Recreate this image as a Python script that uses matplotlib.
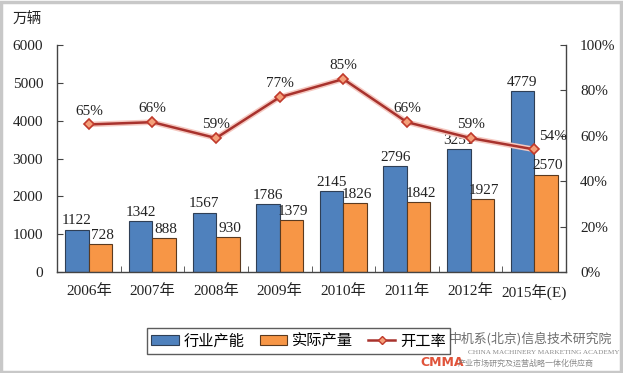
import matplotlib
matplotlib.use("Agg")
import matplotlib.pyplot as plt
from matplotlib.patches import Rectangle
from matplotlib.lines import Line2D
import numpy as np

categories = ["2006年", "2007年", "2008年", "2009年", "2010年", "2011年", "2012年", "2015年(E)"]
capacity = [1122, 1342, 1567, 1786, 2145, 2796, 3251, 4779]
production = [728, 888, 930, 1379, 1826, 1842, 1927, 2570]
rate = [65, 66, 59, 77, 85, 66, 59, 54]
left_ticks = [0, 1000, 2000, 3000, 4000, 5000, 6000]
right_ticks = [0, 20, 40, 60, 80, 100]

SERIF = ["Liberation Serif", "Noto Sans CJK SC"]
SANS = ["Noto Sans CJK SC", "DejaVu Sans"]

W, H = 623, 373
fig = plt.figure(figsize=(W / 100, H / 100), dpi=100)
fig.patch.set_facecolor("white")
fig.patches.append(Rectangle((0.002, 0.004), 0.994, 0.99, transform=fig.transFigure,
                             fill=False, edgecolor="#c8c8c8", linewidth=2.5))

ax = fig.add_axes([57 / W, 1 - 272 / H, (566 - 57) / W, (272 - 45) / H])
x = np.arange(len(categories))
bw = 0.37
blue = "#4F81BD"
orange = "#F79646"
ax.bar(x - bw / 2, capacity, bw, color=blue, edgecolor="#2f3f55", linewidth=0.8, zorder=2)
ax.bar(x + bw / 2, production, bw, color=orange, edgecolor="#5a3a20", linewidth=0.8, zorder=2)
for i in range(len(x)):
    ax.text(x[i] - bw / 2, capacity[i] + 60, str(capacity[i]), ha="center", va="bottom",
            fontsize=11, family=SERIF, color="#222222", zorder=5)
    ax.text(x[i] + bw / 2 + 0.03, production[i] + 60, str(production[i]), ha="center", va="bottom",
            fontsize=11, family=SERIF, color="#222222", zorder=5)

ax.set_xlim(-0.5, len(categories) - 0.5)
ax.set_ylim(0, 6000)
ax.set_yticks(left_ticks)
ax.set_yticklabels([str(t) for t in left_ticks], family=SERIF, fontsize=11, color="#222222")
ax.set_xticks(x)
ax.set_xticklabels(categories, family=SERIF, fontsize=11, color="#222222")
ax.set_xticks(np.arange(-0.5, len(categories), 1), minor=True)
ax.tick_params(axis="x", which="major", length=0, pad=9)
ax.tick_params(axis="x", which="minor", length=4, direction="in", color="#444444")
ax.tick_params(axis="y", length=4, direction="in", color="#444444", pad=10)
for s in ["top", "right"]:
    ax.spines[s].set_visible(False)
for s in ["left", "bottom"]:
    ax.spines[s].set_color("#444444")
    ax.spines[s].set_linewidth(1.0)

ax2 = ax.twinx()
ax2.set_ylim(0, 100)
ax2.set_yticks(right_ticks)
ax2.set_yticklabels([f"{t}%" for t in right_ticks], family=SERIF, fontsize=11, color="#222222")
ax2.tick_params(axis="y", length=4, direction="in", color="#444444", pad=10)
for s in ["top", "left", "bottom"]:
    ax2.spines[s].set_visible(False)
ax2.spines["right"].set_color("#444444")
ax2.spines["right"].set_linewidth(1.0)
ax2.plot(x, rate, color="#f5c8c0", linewidth=4.0, zorder=3, solid_capstyle="round")
ax2.plot(x, rate, color="#a8322d", linewidth=1.8, marker="D", markersize=5.5,
         markerfacecolor="#f4a07a", markeredgecolor="#c0392b", markeredgewidth=1.2, zorder=4)
for i in range(len(x)):
    dx = 0.3 if i == len(x) - 1 else 0
    ax2.text(x[i] + dx, rate[i] + 3, f"{rate[i]}%", ha="center", va="bottom",
             fontsize=11, family=SERIF, color="#222222", zorder=5)

fig.text(13 / W, 1 - 20 / H, "万辆", family=SANS, fontsize=10.5, color="#222222", va="center")

handles = [Rectangle((0, 0), 1, 1, facecolor=blue, edgecolor="#2f3f55", linewidth=0.8),
           Rectangle((0, 0), 1, 1, facecolor=orange, edgecolor="#5a3a20", linewidth=0.8),
           Line2D([0], [0], color="#a8322d", linewidth=1.8, marker="D", markersize=4.5,
                  markerfacecolor="#f4a07a", markeredgecolor="#c0392b")]
leg = fig.legend(handles, ["行业产能", "实际产量", "开工率"], loc="center",
                 bbox_to_anchor=((152 + 445) / 2 / W, 1 - 341 / H), ncol=3,
                 prop={"family": SANS, "size": 11}, frameon=True, fancybox=False,
                 handlelength=1.8, handleheight=0.6, columnspacing=1.0, handletextpad=0.3,
                 borderpad=0.3, borderaxespad=0)
leg.get_frame().set_edgecolor("#333333")
leg.get_frame().set_linewidth(1.0)

# watermark logo text
fig.text(449 / W, 1 - 339 / H, "中机系(北京)信息技术研究院", family=SANS, fontsize=9.3,
         color="#555555", va="center", alpha=0.85)
fig.text(468 / W, 1 - 352 / H, "CHINA MACHINERY MARKETING ACADEMY", family=SERIF, fontsize=5.2,
         color="#777777", va="center", alpha=0.85)
fig.text(420 / W, 1 - 363 / H, "CMMA", family=["DejaVu Sans"], fontsize=9, fontweight="bold",
         color="#e0533a", va="center")
fig.text(458 / W, 1 - 363 / H, "产业市场研究及运营战略一体化供应商", family=SANS, fontsize=5.8,
         color="#777777", va="center", alpha=0.85)

fig.savefig("out.png", dpi=100, facecolor="white")
